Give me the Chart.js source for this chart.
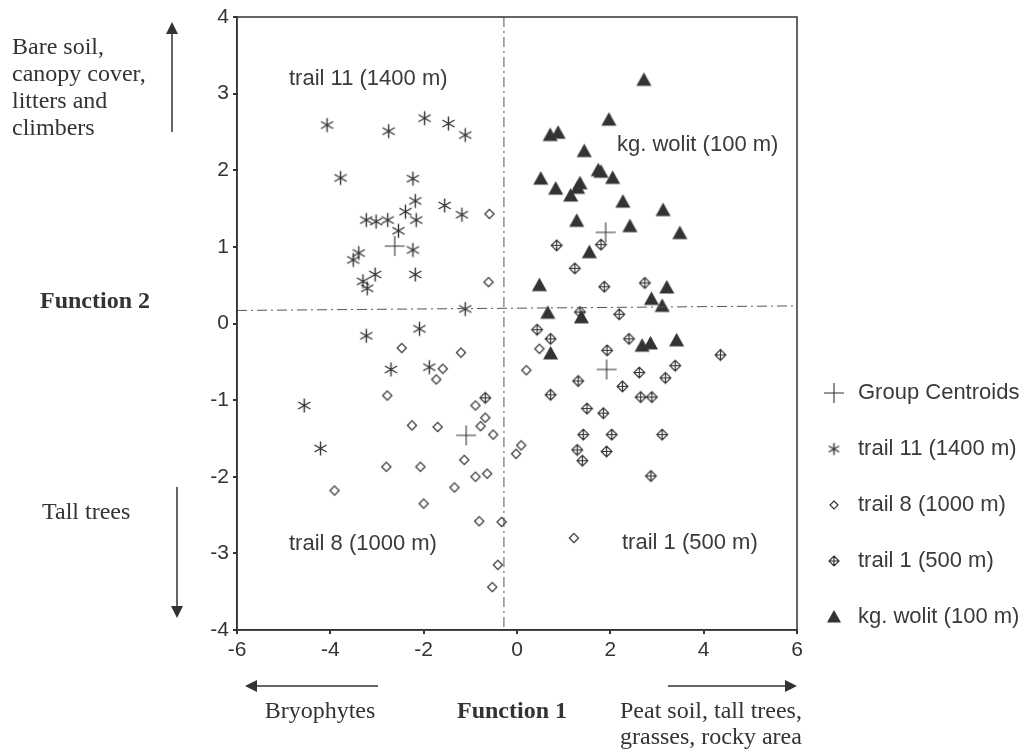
<!DOCTYPE html>
<html>
<head>
<meta charset="utf-8">
<script src="https://cdn.jsdelivr.net/npm/chart.js@4"></script>
<style>
  html, body { margin: 0; padding: 0; background: #fff; }
  #wrap { width: 1029px; height: 749px; position: relative; }
</style>
</head>
<body>
<div id="wrap"><canvas id="c" width="1029" height="749"></canvas></div>
<script>
// discriminant scores (Function 1, Function 2)
const trail11 = [
  [-4.07, 2.59], [-2.75, 2.51], [-1.98, 2.68], [-1.47, 2.61], [-1.11, 2.46],
  [-3.78, 1.90], [-2.23, 1.89], [-2.18, 1.60], [-1.55, 1.54], [-1.18, 1.42],
  [-2.39, 1.46], [-3.23, 1.35], [-3.02, 1.33], [-2.77, 1.35], [-2.16, 1.35],
  [-2.54, 1.21], [-2.23, 0.96], [-3.39, 0.92], [-3.51, 0.83], [-3.04, 0.64],
  [-2.18, 0.64], [-3.30, 0.55], [-3.21, 0.46], [-1.11, 0.19], [-2.09, -0.07],
  [-3.23, -0.16], [-2.70, -0.60], [-1.88, -0.57], [-4.56, -1.07], [-4.21, -1.63]
];
const trail8 = [
  [-0.59, 1.43], [-0.61, 0.54], [-2.47, -0.32], [-1.20, -0.38], [-1.59, -0.59],
  [-1.73, -0.73], [-2.78, -0.94], [-0.89, -1.07], [-0.68, -1.23], [-0.78, -1.34],
  [-0.51, -1.45], [-2.25, -1.33], [-1.70, -1.35], [-1.13, -1.78], [-2.80, -1.87],
  [-2.07, -1.87], [-0.89, -2.00], [-0.64, -1.96], [-1.34, -2.14], [-3.91, -2.18],
  [-2.00, -2.35], [-0.81, -2.58], [-0.33, -2.59], [-0.41, -3.15], [-0.53, -3.44],
  [-0.02, -1.70], [0.09, -1.59], [0.20, -0.61], [0.48, -0.33], [1.22, -2.80]
];
const trail1 = [
  [0.85, 1.02], [1.80, 1.03], [1.24, 0.72], [1.87, 0.48], [2.74, 0.53],
  [1.35, 0.15], [2.19, 0.12], [0.43, -0.08], [0.72, -0.20], [2.40, -0.20],
  [1.93, -0.35], [4.36, -0.41], [3.39, -0.55], [2.62, -0.64], [3.18, -0.71],
  [1.31, -0.75], [2.26, -0.82], [0.72, -0.93], [2.65, -0.96], [2.89, -0.96],
  [1.50, -1.11], [1.85, -1.17], [1.42, -1.45], [2.03, -1.45], [3.11, -1.45],
  [1.29, -1.65], [1.40, -1.79], [1.92, -1.67], [2.87, -1.99], [-0.68, -0.97]
];
const kgWolit = [
  [2.72, 3.18], [1.97, 2.66], [0.71, 2.46], [0.88, 2.49], [1.44, 2.25],
  [0.51, 1.89], [0.83, 1.76], [1.35, 1.83], [1.30, 1.77], [1.15, 1.67],
  [1.74, 2.00], [1.80, 1.98], [2.05, 1.90], [2.27, 1.59], [3.13, 1.48],
  [1.28, 1.34], [2.42, 1.27], [3.49, 1.18], [1.55, 0.93], [0.48, 0.50],
  [3.21, 0.47], [2.88, 0.32], [3.11, 0.23], [0.66, 0.14], [1.38, 0.08],
  [0.72, -0.39], [2.68, -0.29], [2.86, -0.26], [3.42, -0.22]
];
const centroids = [[-2.62, 1.01], [-1.09, -1.46], [1.92, -0.60], [1.90, 1.19]];

// dash-dot separators
const vLine = [[-0.28, 4], [-0.28, -4]];
const hLine = [[-6, 0.17], [6, 0.23]];

const xMin = -6, xMax = 6, xStep = 2;
const yMin = -4, yMax = 4, yStep = 1;

const legendLabels = ['Group Centroids', 'trail 11 (1400 m)', 'trail 8 (1000 m)', 'trail 1 (500 m)', 'kg. wolit (100 m)'];

const ink = '#333';
const toPts = arr => arr.map(p => ({ x: p[0], y: p[1] }));

// marker images
function marker(size, draw) {
  const c = document.createElement('canvas');
  c.width = size; c.height = size;
  const g = c.getContext('2d');
  g.strokeStyle = ink; g.fillStyle = ink; g.lineWidth = 1.4;
  draw(g, size / 2);
  return c;
}
function starMark(r) {
  return marker(2 * r + 3, (g, m) => {
    g.beginPath();
    [90, 30, 150].forEach(a => {
      const t = a * Math.PI / 180;
      g.moveTo(m - r * Math.cos(t), m - r * Math.sin(t));
      g.lineTo(m + r * Math.cos(t), m + r * Math.sin(t));
    });
    g.stroke();
  });
}
function diamondMark(r, plus) {
  return marker(Math.ceil(2 * r + 4), (g, m) => {
    g.lineWidth = 1.2;
    g.beginPath();
    g.moveTo(m, m - r); g.lineTo(m + r, m); g.lineTo(m, m + r); g.lineTo(m - r, m); g.closePath();
    if (plus) {
      g.moveTo(m, m - r); g.lineTo(m, m + r);
      g.moveTo(m - r, m); g.lineTo(m + r, m);
    }
    g.stroke();
  });
}
function triMark(w) {
  return marker(w + 2, (g, m) => {
    g.beginPath();
    g.moveTo(m, 1); g.lineTo(w + 1, w - 0.5); g.lineTo(1, w - 0.5); g.closePath();
    g.fill();
  });
}
const starImg = starMark(7);
const diamondImg = diamondMark(4.6, false);
const plusDiamondImg = diamondMark(5.4, true);
const triImg = triMark(15);
const crossImg = marker(22, (g, m) => {
  g.lineWidth = 1.1;
  g.beginPath();
  g.moveTo(m, 1); g.lineTo(m, 21);
  g.moveTo(1, m); g.lineTo(21, m);
  g.stroke();
});
const legendMarks = [crossImg, starMark(6), diamondMark(4, false), diamondMark(5, true), triMark(14)];

function arrow(ctx, x1, y1, x2, y2) {
  const a = Math.atan2(y2 - y1, x2 - x1);
  const L = 12, W = 6;
  ctx.beginPath();
  ctx.moveTo(x1, y1);
  ctx.lineTo(x2 - L * Math.cos(a) * 0.8, y2 - L * Math.sin(a) * 0.8);
  ctx.stroke();
  ctx.beginPath();
  ctx.moveTo(x2, y2);
  ctx.lineTo(x2 - L * Math.cos(a) - W * Math.sin(a), y2 - L * Math.sin(a) + W * Math.cos(a));
  ctx.lineTo(x2 - L * Math.cos(a) + W * Math.sin(a), y2 - L * Math.sin(a) - W * Math.cos(a));
  ctx.closePath();
  ctx.fill();
}

const sans = '"Liberation Sans", Arial, sans-serif';
const serif = '"Liberation Serif", "Times New Roman", serif';

const decor = {
  id: 'decor',
  afterDraw(chart) {
    const ctx = chart.ctx;
    const a = chart.chartArea;
    ctx.save();
    // frame
    ctx.strokeStyle = ink; ctx.lineWidth = 1.5;
    ctx.strokeRect(a.left, a.top, a.right - a.left, a.bottom - a.top);

    // group names inside the plot
    ctx.fillStyle = '#3a3a3a';
    ctx.font = '22px ' + sans;
    ctx.textBaseline = 'middle';
    ctx.textAlign = 'left';
    ctx.fillText('trail 11 (1400 m)', 289, 79);
    ctx.fillText('kg. wolit (100 m)', 617, 145);
    ctx.fillText('trail 8 (1000 m)', 289, 544);
    ctx.fillText('trail 1 (500 m)', 622, 543);

    // axis side notes
    ctx.fillStyle = ink; ctx.strokeStyle = ink; ctx.lineWidth = 1.5;
    ctx.font = '24px ' + serif;
    ctx.fillText('Bare soil,', 12, 48);
    ctx.fillText('canopy cover,', 12, 75);
    ctx.fillText('litters and', 12, 102);
    ctx.fillText('climbers', 12, 129);
    ctx.fillText('Tall trees', 42, 513);
    arrow(ctx, 172, 132, 172, 22);
    arrow(ctx, 177, 487, 177, 618);

    ctx.font = 'bold 24px ' + serif;
    ctx.fillText('Function 2', 40, 302);
    ctx.textAlign = 'center';
    ctx.fillText('Function 1', 512, 712);

    ctx.font = '24px ' + serif;
    ctx.fillText('Bryophytes', 320, 712);
    ctx.textAlign = 'left';
    ctx.fillText('Peat soil, tall trees,', 620, 712);
    ctx.fillText('grasses, rocky area', 620, 738);
    arrow(ctx, 378, 686, 245, 686);
    arrow(ctx, 668, 686, 797, 686);

    // legend
    ctx.font = '22px ' + sans;
    ctx.fillStyle = '#3a3a3a';
    legendLabels.forEach((t, i) => {
      const y = 393 + i * 56;
      const img = legendMarks[i];
      ctx.drawImage(img, 834 - img.width / 2, y - img.height / 2);
      ctx.fillText(t, 858, y);
    });
    ctx.restore();
  }
};

const font = { family: sans, size: 21 };

new Chart(document.getElementById('c'), {
  type: 'scatter',
  data: {
    datasets: [
      { data: toPts(vLine), showLine: true, borderColor: '#555', borderWidth: 1, borderDash: [10, 4, 2, 4], pointRadius: 0 },
      { data: toPts(hLine), showLine: true, borderColor: '#555', borderWidth: 1, borderDash: [10, 4, 2, 4], pointRadius: 0 },
      { label: legendLabels[1], data: toPts(trail11), pointStyle: starImg },
      { label: legendLabels[2], data: toPts(trail8), pointStyle: diamondImg },
      { label: legendLabels[3], data: toPts(trail1), pointStyle: plusDiamondImg },
      { label: legendLabels[4], data: toPts(kgWolit), pointStyle: triImg },
      { label: legendLabels[0], data: toPts(centroids), pointStyle: crossImg }
    ]
  },
  options: {
    responsive: false,
    animation: false,
    events: [],
    layout: { padding: { left: 197, right: 232, top: 17, bottom: 81 } },
    plugins: { legend: { display: false }, tooltip: { enabled: false } },
    scales: {
      x: {
        type: 'linear', min: xMin, max: xMax,
        ticks: { stepSize: xStep, color: ink, font: font, padding: 4 },
        grid: { drawOnChartArea: false, tickLength: 4, color: ink, lineWidth: 2 },
        border: { color: ink, width: 1.5 },
        afterFit(s) { s.height = 38; }
      },
      y: {
        type: 'linear', min: yMin, max: yMax,
        ticks: { stepSize: yStep, color: ink, font: font, padding: 4 },
        grid: { drawOnChartArea: false, tickLength: 4, color: ink, lineWidth: 2 },
        border: { color: ink, width: 1.5 },
        afterFit(s) { s.width = 40; }
      }
    }
  },
  plugins: [decor]
});
</script>
</body>
</html>
